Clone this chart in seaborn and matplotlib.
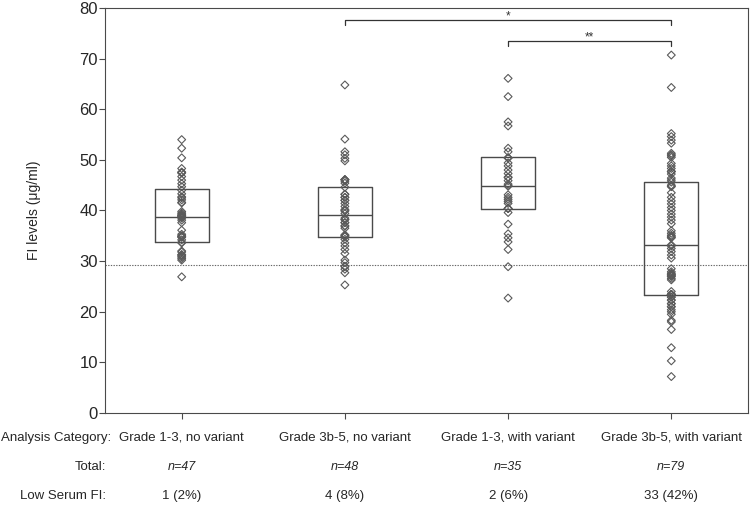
import numpy as np
import pandas as pd
import matplotlib
matplotlib.use("Agg")
import matplotlib.pyplot as plt
import matplotlib.transforms as mtrans
import seaborn as sns

categories = ["Grade 1-3, no variant", "Grade 3b-5, no variant",
              "Grade 1-3, with variant", "Grade 3b-5, with variant"]
totals = ["n=47", "n=48", "n=35", "n=79"]
low_serum = ["1 (2%)", "4 (8%)", "2 (6%)", "33 (42%)"]

g1 = [54.0, 52.3, 50.4, 48.3, 47.6, 47.5, 47.4, 46.7, 46.0, 45.3, 44.7, 44.0,
      43.3, 42.7, 42.5, 42.1, 41.6, 41.5, 39.8, 39.5, 39.3, 39.1, 39.0, 38.9,
      38.8, 38.7, 38.5, 38.1, 37.6, 36.1, 35.3, 35.0, 34.9, 34.8, 34.7, 34.2,
      33.7, 33.6, 32.0, 31.8, 31.3, 31.2, 31.0, 30.8, 30.5, 30.2, 26.9]
g2 = [64.8, 54.1, 51.6, 51.0, 50.3, 49.8, 46.1, 46.1, 46.1, 45.8, 45.4, 44.6,
      43.2, 43.2, 42.6, 42.6, 42.0, 42.0, 41.4, 40.8, 40.2, 40.0, 39.9, 39.4,
      38.5, 38.2, 38.2, 37.6, 37.6, 37.0, 36.9, 36.5, 35.2, 35.0, 35.0, 34.8,
      34.3, 33.6, 33.0, 32.3, 31.5, 30.2, 29.7, 29.0, 28.9, 28.4, 27.7, 25.3]
g3 = [66.1, 62.5, 57.5, 56.7, 52.3, 51.6, 50.4, 50.4, 50.4, 49.4, 48.8, 48.0,
      47.3, 46.6, 46.5, 45.9, 45.2, 44.9, 44.8, 43.1, 42.6, 42.2, 41.8, 41.4,
      40.4, 40.4, 40.4, 39.6, 37.3, 35.4, 34.6, 33.8, 32.3, 28.9, 22.7]
g4 = [70.7, 64.3, 55.2, 54.6, 53.9, 53.3, 51.3, 51.0, 50.8, 50.5, 49.3, 48.8,
      48.3, 47.7, 47.7, 47.7, 47.2, 46.4, 46.0, 45.6, 45.0, 44.8, 44.7, 43.5,
      42.6, 41.9, 41.3, 40.6, 40.0, 39.3, 38.7, 38.1, 37.4, 36.0, 35.5, 35.1,
      34.9, 34.7, 34.6, 33.2, 33.0, 32.5, 31.9, 31.2, 30.6, 28.5, 27.9, 27.6,
      27.4, 27.3, 27.2, 27.0, 27.0, 26.6, 26.3, 24.0, 23.4, 23.4, 23.4, 23.4,
      23.4, 23.4, 22.9, 22.9, 22.3, 22.3, 21.6, 21.6, 21.0, 21.0, 20.4, 20.0,
      19.5, 18.3, 18.0, 16.5, 12.9, 10.3, 7.2]

box_q1 = [33.8, 34.8, 40.3, 23.4]
box_med = [38.8, 39.2, 44.9, 33.2]
box_q3 = [44.3, 44.7, 50.5, 45.6]
low_threshold = 29.2

groups = [g1, g2, g3, g4]
df = pd.DataFrame({
    "category": np.concatenate([[c] * len(g) for c, g in zip(categories, groups)]),
    "value": np.concatenate(groups),
})

sns.set_style("white")
plt.rcParams["font.family"] = ["Liberation Sans", "DejaVu Sans"]

fig = plt.figure(figsize=(7.52, 5.09), dpi=100)
ax = fig.add_axes([0.1396, 0.1886, 0.8551, 0.7957])

line_col = "#4a4a4a"
stats = [dict(q1=a, med=m, q3=b, whislo=a, whishi=b, fliers=[], label=c)
         for a, m, b, c in zip(box_q1, box_med, box_q3, categories)]
ax.bxp(stats, positions=range(len(categories)), widths=0.33,
       showcaps=False, showfliers=False, patch_artist=False,
       boxprops=dict(color=line_col, linewidth=1.0),
       medianprops=dict(color=line_col, linewidth=1.0),
       whiskerprops=dict(color=line_col, linewidth=0), manage_ticks=False)

sns.stripplot(data=df, x="category", y="value", order=categories, jitter=False,
              marker="D", size=4.0, edgecolor="#555555",
              linewidth=0.8, ax=ax, zorder=3)
for coll in ax.collections:
    coll.set_facecolor("none")
    coll.set_edgecolor("#5a5a5a")
    coll.set_linewidth(0.8)

ax.axhline(low_threshold, color="#666666", linestyle=(0, (1.2, 1.2)),
           linewidth=0.8, zorder=1)

ax.set_xlim(-0.47, 3.47)
ax.set_ylim(0, 80)
ax.set_yticks(range(0, 81, 10))
ax.set_xticks(range(len(categories)))
ax.set_xticklabels([""] * len(categories))
ax.set_xlabel("")
ax.set_ylabel("FI levels (\u03bcg/ml)", fontsize=10, labelpad=28)
ax.tick_params(axis="y", labelsize=12, length=4, width=0.8, color=line_col,
               left=True, pad=1)
ax.tick_params(axis="x", length=4, width=0.8, color=line_col, bottom=True,
               direction="out")
for sp in ax.spines.values():
    sp.set_color(line_col)
    sp.set_linewidth(0.8)
    sp.set_visible(True)

# significance brackets
def bracket(x0, x1, y, label):
    ax.plot([x0, x0, x1, x1], [y - 1.0, y, y, y - 1.0], color="#333333",
            linewidth=0.9, clip_on=False)
    ax.text((x0 + x1) / 2, y - 0.5, label, ha="center", va="bottom",
            fontsize=8.5, color="#333333")

bracket(1, 3, 77.7, "*")
bracket(2, 3, 73.5, "**")

# table rows below axes
trans = mtrans.blended_transform_factory(ax.transData, fig.transFigure)
row_y = [1 - 438 / 509, 1 - 467 / 509, 1 - 496 / 509]
row_titles = ["Analysis Category:", "Total:", "Low Serum FI:"]
row_right = [111 / 752, 106 / 752, 106 / 752]
for yy, xr, title in zip(row_y, row_right, row_titles):
    fig.text(xr, yy, title, ha="right", va="center", fontsize=9.5)
for i in range(len(categories)):
    ax.text(i, row_y[0], categories[i], transform=trans, ha="center",
            va="center", fontsize=9.5)
    ax.text(i, row_y[1], totals[i], transform=trans, ha="center",
            va="center", fontsize=9, style="italic")
    ax.text(i, row_y[2], low_serum[i], transform=trans, ha="center",
            va="center", fontsize=9.5)

fig.savefig("out.png", dpi=100)
